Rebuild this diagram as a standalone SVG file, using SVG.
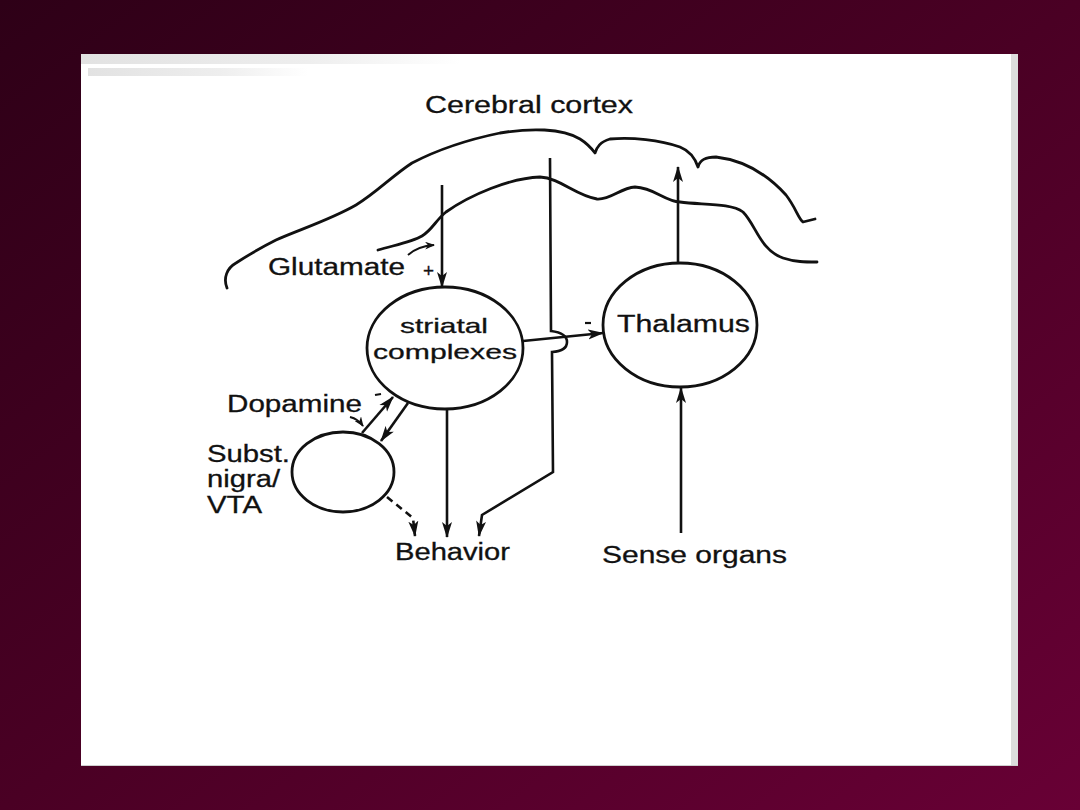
<svg xmlns="http://www.w3.org/2000/svg" width="1080" height="810" viewBox="0 0 1080 810">
<defs>
<linearGradient id="bg" x1="0" y1="0" x2="1" y2="1">
<stop offset="0" stop-color="#2e0017"/>
<stop offset="0.5" stop-color="#4a0024"/>
<stop offset="1" stop-color="#680035"/>
</linearGradient>
<linearGradient id="streak" x1="0" y1="0" x2="1" y2="0">
<stop offset="0" stop-color="#e2e2e2"/>
<stop offset="0.6" stop-color="#eeeeee"/>
<stop offset="1" stop-color="#ffffff"/>
</linearGradient>
<marker id="ah" viewBox="0 0 16 11" refX="15" refY="5.5" markerWidth="16" markerHeight="11" markerUnits="userSpaceOnUse" orient="auto">
<path d="M0,0.5 L16,5.5 L0,10.5 L4,5.5 Z" fill="#111"/>
</marker>
<marker id="ahs" viewBox="0 0 10 8" refX="9" refY="4" markerWidth="10" markerHeight="8" markerUnits="userSpaceOnUse" orient="auto">
<path d="M0,0 L10,4 L0,8 L3,4 Z" fill="#111"/>
</marker>
<style>
.t{font-family:"Liberation Sans",Arial,Helvetica,sans-serif;font-size:23.5px;fill:#111;stroke:#111;stroke-width:0.3}
.s{font-size:21px}
.ln{fill:none;stroke:#111;stroke-width:2.8;stroke-linecap:round;stroke-linejoin:round}
.nd{fill:#fff;stroke:#111;stroke-width:2.8}
.ar{fill:none;stroke:#111;stroke-width:2.6;marker-end:url(#ah)}
.sm{fill:none;stroke:#111;stroke-width:2;marker-end:url(#ahs)}
</style>
</defs>
<rect x="0" y="0" width="1080" height="810" fill="url(#bg)"/>
<rect x="81" y="54" width="937" height="712" fill="#fff"/>
<rect x="1011" y="54" width="7" height="712" fill="#dcdcdc"/>
<rect x="81" y="54" width="380" height="10" fill="url(#streak)"/>
<rect x="88" y="68" width="220" height="8" fill="url(#streak)"/>
<rect x="81" y="765" width="937" height="1" fill="#cfcfcf"/>

<g id="cortex">
<path class="ln" d="M227,288 C223,278 227,268 236,263 C250,254 262,247 276,240 C298,230 330,220 356,205 C376,193 392,176 412,163 C437,150 466,140 500,133 C530,128 562,128 580,139 C588,144 592,149 595,153 C597,147 600,142 610,139 C632,137 660,140 680,147 C690,151 695,158 698,167 C700,160 705,157 716,157 C742,160 766,173 786,195 C796,208 798,218 803,222 L815,219"/>
<path class="ln" d="M378,250 C395,245 412,242 422,236 C432,230 436,220 446,212 C470,195 510,178 540,177 C560,178 576,196 597,199 C611,200 620,188 635,187 C655,188 664,201 680,202 C702,205 731,203 743,212 C756,225 760,250 783,258 C795,262 805,262 817,262"/>
<text class="t" x="425" y="113" textLength="208" lengthAdjust="spacingAndGlyphs">Cerebral cortex</text>
</g>

<g id="glutamate">
<text class="t" x="268" y="275" textLength="137" lengthAdjust="spacingAndGlyphs">Glutamate</text>
<text class="t" x="423" y="277" style="font-size:19px">+</text>
</g>

<g id="striatal">
<ellipse class="nd" cx="445" cy="348" rx="78" ry="61"/>
<text class="t s" x="400" y="333" textLength="88" lengthAdjust="spacingAndGlyphs">striatal</text>
<text class="t s" x="373" y="359" textLength="144" lengthAdjust="spacingAndGlyphs">complexes</text>
</g>

<g id="thalamus">
<ellipse class="nd" cx="680" cy="325" rx="77" ry="62"/>
<text class="t" x="617" y="332" textLength="133" lengthAdjust="spacingAndGlyphs">Thalamus</text>
</g>

<g id="nigra">
<ellipse class="nd" cx="343" cy="472" rx="51" ry="40"/>
<text class="t" x="207" y="462" textLength="83" lengthAdjust="spacingAndGlyphs">Subst.</text>
<text class="t" x="207" y="487" textLength="73" lengthAdjust="spacingAndGlyphs">nigra/</text>
<text class="t" x="207" y="513" textLength="55" lengthAdjust="spacingAndGlyphs">VTA</text>
</g>

<g id="dopamine">
<text class="t" x="227" y="412" textLength="135" lengthAdjust="spacingAndGlyphs">Dopamine</text>
</g>

<g id="behavior">
<text class="t" x="395" y="560" textLength="115" lengthAdjust="spacingAndGlyphs">Behavior</text>
</g>

<g id="sense">
<text class="t" x="602" y="563" textLength="185" lengthAdjust="spacingAndGlyphs">Sense organs</text>
</g>

<g id="connectors">
<path class="ar" d="M442,185 L442,287"/>
<path class="ar" d="M523,341 L603,333"/>
<line x1="585" y1="323" x2="591" y2="323" stroke="#111" stroke-width="2.2"/>
<path class="ar" d="M678,264 L678,167"/>
<path class="ar" d="M681,533 L681,388"/>
<path class="ar" d="M447,410 L447,537"/>
<path class="ar" d="M550,158 L551,331 Q567,333 567,342 Q567,351 552,352 L553,472 L482,515 L479,536"/>
<path class="ar" d="M362,433 L393,397"/>
<path class="ar" d="M408,403 L381,441"/>
<line x1="375" y1="395" x2="381" y2="394" stroke="#111" stroke-width="2.2"/>
<path class="ar" d="M387,497 L413,518 L415,536" stroke-dasharray="7,5"/>
<path class="sm" d="M408,255 Q418,246 434,245"/>
<path class="sm" d="M350,417 Q358,419 363,426"/>
</g>
</svg>
